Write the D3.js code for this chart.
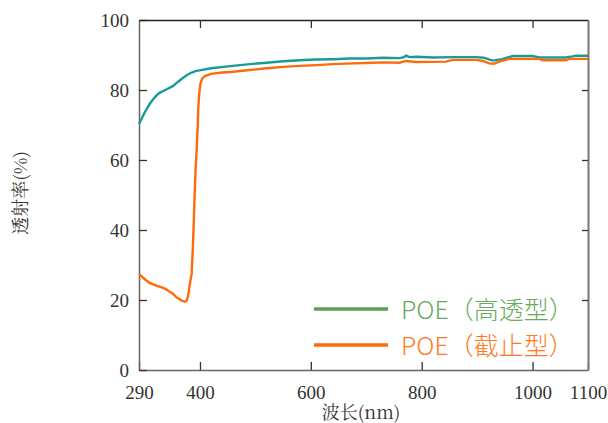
<!DOCTYPE html>
<html>
<head>
<meta charset="utf-8">
<script src="https://cdn.jsdelivr.net/npm/d3@7/dist/d3.min.js"></script>
<style>
  body { margin: 0; background: #fff; }
</style>
</head>
<body>
<svg id="chart" width="608" height="423"></svg>
<script>
// wavelength (nm) / transmittance (%)
const highWl = [290, 300, 310, 320, 327, 340, 351, 360, 368, 376, 385, 392, 399, 420, 459, 490, 520, 550, 580, 610, 640, 670, 700, 730, 760, 768, 772, 778, 790, 820, 860, 898, 912, 928, 945, 964, 1000, 1012, 1040, 1060, 1072, 1078, 1100];
const highT  = [70.3, 73.5, 76.2, 78.2, 79.2, 80.2, 81.1, 82.3, 83.3, 84.2, 85.0, 85.4, 85.6, 86.2, 86.9, 87.4, 87.8, 88.2, 88.5, 88.7, 88.8, 89.0, 89.0, 89.2, 89.1, 89.4, 89.8, 89.4, 89.5, 89.3, 89.4, 89.4, 89.2, 88.4, 88.8, 89.7, 89.7, 89.3, 89.3, 89.3, 89.6, 89.8, 89.8];

const cutWl = [290, 300, 309, 318, 327, 336, 345, 351, 357, 364, 372, 376, 379, 382, 385, 387, 389, 390, 392, 394, 396, 397, 399, 401, 404, 409, 420, 440, 459, 490, 520, 550, 580, 610, 640, 676, 700, 730, 760, 772, 790, 844, 856, 898, 910, 922, 930, 940, 958, 1012, 1018, 1060, 1066, 1100];
const cutT  = [27.4, 26.0, 24.9, 24.3, 23.8, 23.3, 22.4, 21.8, 20.9, 20.1, 19.5, 19.8, 21.5, 24.8, 27.6, 34.3, 43.0, 48.6, 57.0, 63.0, 70.0, 75.2, 79.5, 81.9, 83.3, 84.0, 84.6, 85.0, 85.2, 85.7, 86.2, 86.6, 86.9, 87.1, 87.4, 87.6, 87.7, 87.9, 87.8, 88.3, 88.0, 88.1, 88.6, 88.6, 88.3, 87.6, 87.5, 88.1, 88.9, 88.9, 88.5, 88.5, 88.9, 88.9];

const xTicks = [290, 400, 600, 800, 1000, 1100];
const yTicks = [0, 20, 40, 60, 80, 100];
const seriesNames = ['POE（高透型）', 'POE（截止型）'];

const margin = { top: 20, right: 20, bottom: 53, left: 139 };
const w = 608, h = 423;
const serif = 'Liberation Serif';
const cjkSerif = 'Noto Serif CJK SC';

const svg = d3.select('#chart');

const x = d3.scaleLinear().domain([290, 1100]).range([margin.left, w - margin.right]);
const y = d3.scaleLinear().domain([0, 100]).range([h - margin.bottom, margin.top]);

function styleAxis(g, color, width) {
  g.select('.domain').attr('stroke', color).attr('stroke-width', width);
  g.selectAll('.tick text')
    .style('font-family', serif)
    .style('font-size', '19px')
    .attr('fill', '#333');
}

// axes, ticks pointing inward
svg.append('g')
  .attr('transform', `translate(0, ${y(0)})`)
  .call(d3.axisBottom(x).tickValues(xTicks).tickFormat(d3.format('d')).tickSizeInner(-8).tickSizeOuter(0).tickPadding(16))
  .call(g => styleAxis(g, '#666', 1.5));

svg.append('g')
  .attr('transform', `translate(${x(290)}, 0)`)
  .call(d3.axisLeft(y).tickValues(yTicks).tickSizeInner(-8).tickSizeOuter(0).tickPadding(10))
  .call(g => styleAxis(g, '#666', 1.5));

svg.append('g')
  .attr('transform', `translate(0, ${y(100)})`)
  .call(d3.axisTop(x).tickValues(xTicks.slice(1, -1)).tickSizeInner(-8).tickSizeOuter(0).tickFormat(''))
  .call(g => styleAxis(g, '#222', 1.5));

svg.append('g')
  .attr('transform', `translate(${x(1100)}, 0)`)
  .call(d3.axisRight(y).tickValues(yTicks.slice(1, -1)).tickSizeInner(-6).tickSizeOuter(0).tickFormat(''))
  .call(g => styleAxis(g, '#777', 2));

svg.selectAll('.tick line').attr('stroke', '#333').attr('stroke-width', 1.3);

const line = d3.line().x(d => x(d[0])).y(d => y(d[1]));

svg.append('path')
  .datum(highWl.map((v, i) => [v, highT[i]]))
  .attr('d', line)
  .attr('fill', 'none')
  .attr('stroke', '#1a9b96')
  .attr('stroke-width', 2.4);

svg.append('path')
  .datum(cutWl.map((v, i) => [v, cutT[i]]))
  .attr('d', line)
  .attr('fill', 'none')
  .attr('stroke', '#ff6a0a')
  .attr('stroke-width', 2.4);

// legend
const legendColors = ['#5b9e55', '#ff6a0a'];
const textColors = ['#67a95f', '#ff7a22'];
const legend = svg.append('g');
seriesNames.forEach((name, i) => {
  const ly = 309 + i * 36;
  legend.append('line')
    .attr('x1', 314).attr('x2', 388)
    .attr('y1', ly).attr('y2', ly)
    .attr('stroke', legendColors[i])
    .attr('stroke-width', 3.5);
  legend.append('text')
    .attr('x', 401).attr('y', ly + 10)
    .style('font-family', 'Noto Sans CJK SC')
    .attr('font-weight', 300)
    .attr('font-size', 25)
    .attr('fill', textColors[i])
    .text(name);
});

// axis titles
svg.append('text')
  .attr('x', 361).attr('y', 419)
  .attr('text-anchor', 'middle')
  .style('font-family', cjkSerif)
  .attr('font-size', 18)
  .attr('fill', '#333')
  .text('波长(nm)');

svg.append('text')
  .attr('transform', 'translate(27, 193) rotate(-90)')
  .attr('text-anchor', 'middle')
  .style('font-family', cjkSerif)
  .attr('font-size', 18)
  .attr('fill', '#333')
  .text('透射率(%)');
</script>
</body>
</html>
